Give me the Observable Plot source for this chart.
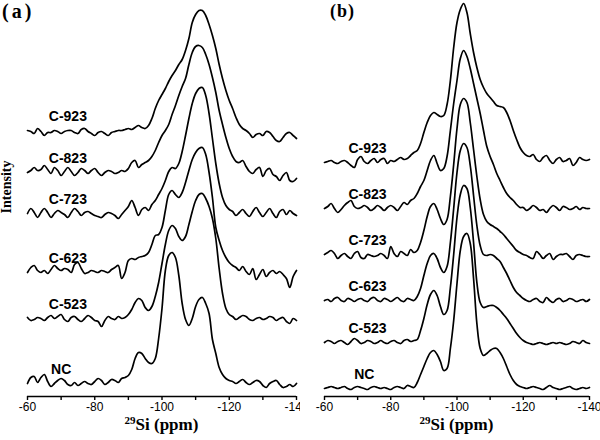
<!DOCTYPE html>
<html><head><meta charset="utf-8">
<script src="https://cdn.jsdelivr.net/npm/d3@7"></script>
<script src="https://cdn.jsdelivr.net/npm/@observablehq/plot@0.6"></script>
<style>
body{margin:0;background:#fff;}
#wrap{display:flex;width:600px;height:440px;}
#wrap svg{display:block;}
</style></head><body><div id="wrap"></div>
<script>
// chemical shift grid (ppm), one sample per ppm from -60 to -140
const ppm = d3.range(-60, -141, -1);
const seriesNames = ["NC", "C-523", "C-623", "C-723", "C-823", "C-923"];
const xTicks = [-60, -70, -80, -90, -100, -110, -120, -130, -140];
// vertical stacking offsets of each spectrum (intensity units)
const offsetsA = [13, 78, 124, 183, 224, 266];
const offsetsB = [8, 54, 96, 142, 188, 234];

// ---- panel (a) spectra: intensity above own baseline ----
const ncA = [0,6,7,1,6,9,2,-3,0,3, 5,3,-1,-2,1,-2,0,2,0,-1, 2,5,3,-1,1,4,3,1,5,6,
  8,14,25,31,30,25,21,20,25,45, 75,113,128,131,126,108,80,64,58,65,
  77,84,86,80,70,44,30,16,9,5, 3,2,0,2,4,1,-1,1,3,2, -2,-4,0,2,3,-1,-4,-3,-1,-3,0];
const c523A = [1,-2,-1,1,0,-2,1,3,0,2, 4,-1,-3,1,2,-1,-3,0,3,1, -2,-3,-8,-2,2,0,-1,2,0,1,
  4,9,16,20,18,11,8,12,22,36, 55,74,88,93,90,82,78,82,94,107,
  118,124,125,120,112,100,80,50,25,10, 4,2,-1,1,3,2,-1,-2,0,1, -1,0,2,1,-2,0,1,-3,-5,0,-2];
const c623A = [0,5,7,2,0,2,-1,3,7,4, 2,4,3,0,8,10,4,-1,0,2, 1,0,2,1,0,3,5,7,-6,0,
  12,14,13,15,16,17,20,28,37,38, 45,62,78,82,78,75,80,90,102,113,
  120,124,125,118,100,75,45,32,22,15, 10,7,5,2,6,1,-2,4,-7,-2, 3,-4,0,2,-1,1,-2,-6,-15,-4,2];
const c723A = [0,5,1,-4,1,5,1,-4,0,3, 1,-1,-4,1,5,2,-2,1,2,0, -2,-3,-4,-1,1,0,-2,-5,-1,3,
  7,13,6,-2,4,6,3,9,13,19, 25,33,42,46,45,50,62,78,95,110,
  120,125,126,118,100,75,50,30,16,8, 4,2,-2,1,4,0,-3,2,6,1, -3,1,5,0,-4,2,4,-1,3,0,-2];
const c823A = [0,2,5,2,3,7,3,-1,5,2, -3,1,5,1,-3,0,4,2,-1,2, 4,0,-3,0,2,1,-1,0,2,1,
  4,10,12,5,8,10,12,16,22,30, 37,42,48,58,67,77,86,94,108,120,
  126,127,125,118,108,95,80,62,48,35, 24,16,11,10,12,6,1,-1,3,5, -4,2,4,-2,-4,-8,-3,0,-8,-9,-6];
const c923A = [0,-1,-3,2,-1,-5,-2,-2,0,-1, -3,-1,0,0,-2,-3,1,2,-1,-3, -5,-2,-1,-3,-5,-2,-1,0,0,1,
  2,1,3,5,3,2,5,12,22,30, 36,42,49,55,60,66,71,80,92,108,
  116,120,120,115,106,95,82,66,52,40, 30,22,13,6,2,0,-3,-7,-4,-3, -5,-1,-2,-6,-10,-11,-7,-3,-2,-5,-8];

// ---- panel (b) spectra ----
const ncB = [0,1,2,1,0,1,2,0,-1,1, 2,1,0,-1,1,2,1,0,1,0, -1,1,2,1,0,3,2,1,6,14,
  22,30,36,38,34,27,18,20,40,68, 105,138,152,155,145,110,65,40,33,35,
  38,40,40,36,30,22,14,8,4,2, 1,0,1,2,1,0,-1,1,3,1, 0,-1,0,1,2,0,-1,0,1,0,1];
const c523B = [0,2,1,-1,1,2,0,-2,1,4, 2,-1,0,2,1,-1,0,2,0,-1, 1,2,0,-1,2,3,1,2,3,12,
  24,38,48,52,47,36,28,32,55,88, 125,148,157,154,135,100,60,40,35,36,
  37,37,35,32,28,24,19,14,9,5, 2,0,-1,-2,-1,0,-1,-2,-1,0, -1,0,-1,-2,-1,1,0,-1,2,0,-1];
const c623B = [0,1,-1,2,3,0,-1,2,1,-1, 1,2,0,-1,2,3,0,-1,2,1, -1,1,3,0,-1,2,1,0,4,12,
  25,37,45,47,42,33,28,34,58,92, 128,150,157,153,135,105,75,55,46,45,
  46,45,42,39,33,27,20,13,8,5, 2,0,-1,1,2,-1,-2,3,0,-2, 1,2,-1,0,2,1,-1,0,1,-1,1];
const c723B = [0,2,4,1,-4,-1,1,-2,-4,1, 3,-3,-4,0,-1,-2,-1,1,-1,-4, 8,1,-2,3,1,-1,5,2,4,12,
  24,38,48,51,45,36,30,35,58,90, 126,150,156,152,132,105,78,55,40,33,
  30,28,26,23,20,16,12,8,4,2, 0,-1,-3,-4,3,0,-4,-1,1,-5, -2,0,0,1,-2,-5,-1,0,-1,-2,-2];
const c823B = [0,2,5,0,-4,-1,3,6,8,2, 0,1,3,1,-2,0,3,1,-2,1, 3,1,-2,2,6,4,8,10,15,22,
  28,38,48,53,45,38,40,52,78,105, 128,150,158,152,140,125,110,95,78,62,
  52,44,35,28,21,15,11,8,4,1, 1,-2,0,3,1,-2,-1,-4,0,3, 1,-2,2,1,-1,0,2,-1,1,0,0];
const c923B = [0,1,2,0,-1,1,2,0,-3,-5, 3,6,1,-1,2,4,0,3,4,-1, 2,1,3,5,3,4,7,10,12,19,
  30,40,47,50,48,46,47,58,82,115, 140,153,159,150,129,110,95,83,75,69,
  65,61,57,56,55,50,42,32,23,15, 10,7,6,8,3,1,5,7,2,-1, 3,5,1,2,4,-3,0,5,3,2,3];

const SANS = "'Liberation Sans', Arial, sans-serif";
const SERIF = "'Liberation Serif', 'Times New Roman', serif";

function addText(sel, attrs, styles) {
  const t = sel.append("text");
  Object.entries(attrs).forEach(([k, v]) => t.attr(k, v));
  Object.entries(styles).forEach(([k, v]) => t.style(k, v));
  return t;
}

function makePanel(series, offsets, cfg) {
  const rows = [];
  series.forEach((vals, k) => vals.forEach((v, i) => rows.push({ppm: ppm[i], h: offsets[k] + v, name: seriesNames[k]})));
  const labels = seriesNames.map((n, k) => ({name: n, ppm: n === "NC" ? cfg.ncLabelX : cfg.labelX, h: offsets[k] + 14}));
  const svg = Plot.plot({
    width: 300, height: 440,
    marginLeft: cfg.ml, marginRight: cfg.mr, marginTop: 6, marginBottom: 44,
    x: {domain: [-60, -140]},
    y: {domain: [0, 390], axis: null},
    style: {background: "white", color: "black", fontFamily: SANS, overflow: "visible"},
    marks: [
      Plot.ruleY([0], {stroke: "black", strokeWidth: 1.6}),
      Plot.axisX({ticks: xTicks, tickFormat: d => d % 20 === 0 ? String(d) : "", tickSize: 4, tickPadding: 2,
        fontSize: 12, label: null, stroke: "black", strokeWidth: 1.4, fill: "black"}),
      Plot.line(rows, {x: "ppm", y: "h", z: "name", stroke: "black", strokeWidth: 1.7, curve: "catmull-rom"}),
      Plot.text(labels, {x: "ppm", y: "h", text: "name", fontSize: 14, fontWeight: "bold", fill: "black", fontFamily: SANS})
    ]
  });
  const s = d3.select(svg);
  const serifBold = {"font-family": SERIF, "font-weight": "bold", "fill": "black"};
  addText(s, {x: cfg.tagX, y: cfg.tagY}, {...serifBold, "font-size": cfg.tagSize + "px", "letter-spacing": cfg.tagSpacing + "px", "text-anchor": "start"})
    .text(cfg.tag);
  const xl = addText(s, {x: (cfg.ml + 300 - cfg.mr) / 2, y: 430}, {...serifBold, "font-size": "17px", "text-anchor": "middle"});
  xl.append("tspan").attr("dy", -6).style("font-size", "11px").text("29");
  xl.append("tspan").attr("dy", 6).text("Si (ppm)");
  if (cfg.ylabel) {
    addText(s, {transform: "translate(11,187) rotate(-90)"}, {...serifBold, "font-size": "14px", "text-anchor": "middle"})
      .text("Intensity");
  }
  return svg;
}

const wrap = document.getElementById("wrap");
wrap.appendChild(makePanel([ncA, c523A, c623A, c723A, c823A, c923A], offsetsA,
  {ml: 27, mr: 4, labelX: -72, ncLabelX: -70, tag: "(a)", tagX: 2, tagY: 18, tagSize: 20, tagSpacing: 3, ylabel: true}));
wrap.appendChild(makePanel([ncB, c523B, c623B, c723B, c823B, c923B], offsetsB,
  {ml: 24, mr: 11, labelX: -73, ncLabelX: -72, tag: "(b)", tagX: 30, tagY: 17, tagSize: 18, tagSpacing: 1, ylabel: false}));
</script>
</body></html>
